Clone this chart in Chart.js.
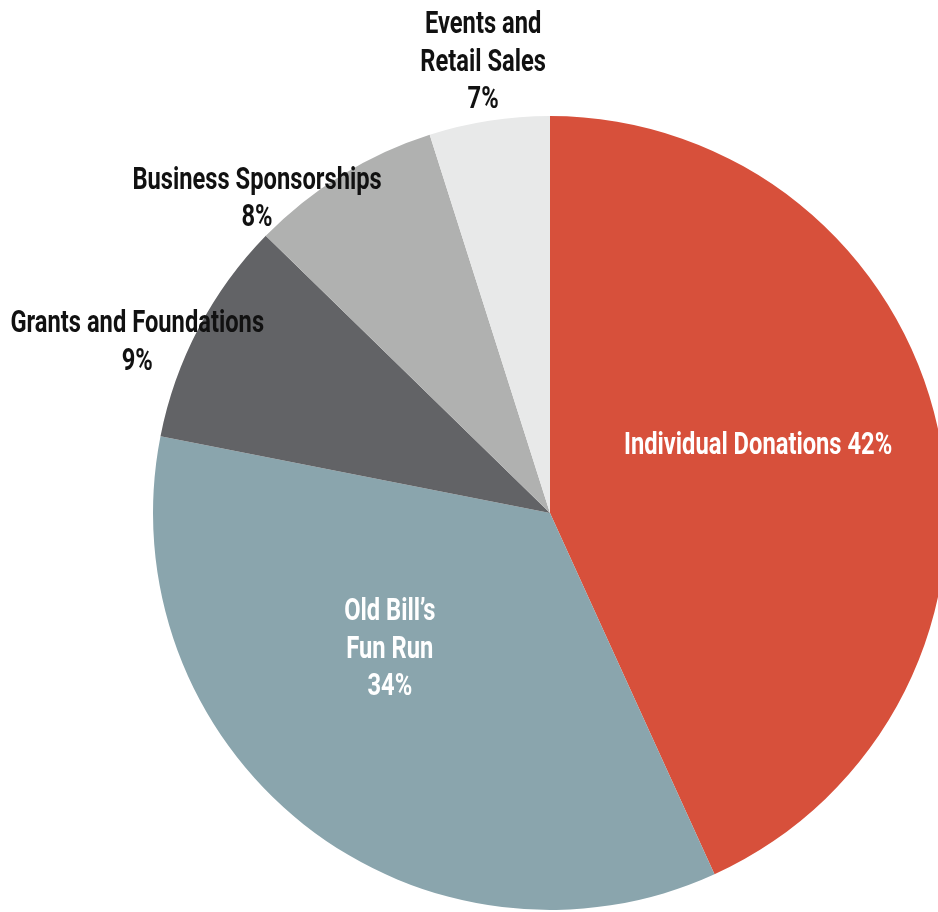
<!DOCTYPE html>
<html>
<head>
<meta charset="utf-8">
<script src="https://cdn.jsdelivr.net/npm/chart.js@4"></script>
<style>
  html, body { margin: 0; padding: 0; overflow: hidden; background: #fff; }
  #wrap { position: relative; width: 960px; height: 912px; }
</style>
</head>
<body>
<div id="wrap"><canvas id="pieChart"></canvas></div>
<script>
// categories and values (slice sizes, labels as printed)
var categories = ['Individual Donations', 'Old Bill\u2019s Fun Run', 'Grants and Foundations', 'Business Sponsorships', 'Events and Retail Sales'];
var sliceValues = [43.2, 34.9, 9.2, 7.8, 4.9];
var pctLabels = ['42%', '34%', '9%', '8%', '7%'];
var labelLines = [
    ['Individual Donations 42%'],
    ['Old Bill\u2019s', 'Fun Run', '34%'],
    ['Grants and Foundations', '9%'],
    ['Business Sponsorships', '8%'],
    ['Events and', 'Retail Sales', '7%']
];
var colors = ['#D7503B', '#8AA5AD', '#626366', '#B0B1B0', '#E8E9E9'];

// where each label sits: angle from 12 o'clock (deg, clockwise) and distance in radii
var labelPos = [
    { angle: 71.4, dist: 0.553, color: '#ffffff' },
    { angle: 230.1, dist: 0.526, color: '#ffffff' },
    { angle: 292.7, dist: 1.127, color: '#111111' },
    { angle: 317.2, dist: 1.086, color: '#111111' },
    { angle: 351.6, dist: 1.153, color: '#111111' }
];

var labelPlugin = {
    id: 'sliceLabels',
    afterDraw: function (chart) {
        var ctx = chart.ctx;
        var arc = chart.getDatasetMeta(0).data[0];
        var cx = arc.x, cy = arc.y, r = arc.outerRadius;
        var lineH = 37.5;
        ctx.save();
        ctx.font = 'bold 31px Roboto';
        ctx.textAlign = 'center';
        ctx.textBaseline = 'middle';
        labelLines.forEach(function (lines, i) {
            var p = labelPos[i];
            var a = p.angle * Math.PI / 180;
            var x = cx + Math.sin(a) * r * p.dist;
            var y = cy - Math.cos(a) * r * p.dist + 3;
            ctx.fillStyle = p.color;
            lines.forEach(function (txt, k) {
                var dy = (k - (lines.length - 1) / 2) * lineH;
                ctx.save();
                ctx.translate(x, y + dy);
                ctx.scale(0.765, 1);
                ctx.fillText(txt, 0, 0);
                ctx.restore();
            });
        });
        ctx.restore();
    }
};

var pieChart = new Chart(document.getElementById('pieChart'), {
    type: 'pie',
    data: {
        labels: categories,
        datasets: [{
            data: sliceValues,
            backgroundColor: colors,
            borderWidth: 0
        }]
    },
    options: {
        responsive: true,
        maintainAspectRatio: false,
        animation: false,
        layout: { padding: { top: 116, bottom: 2, left: 153, right: 13 } },
        plugins: {
            legend: { display: false },
            tooltip: { enabled: false }
        }
    },
    plugins: [labelPlugin]
});
</script>
</body>
</html>
